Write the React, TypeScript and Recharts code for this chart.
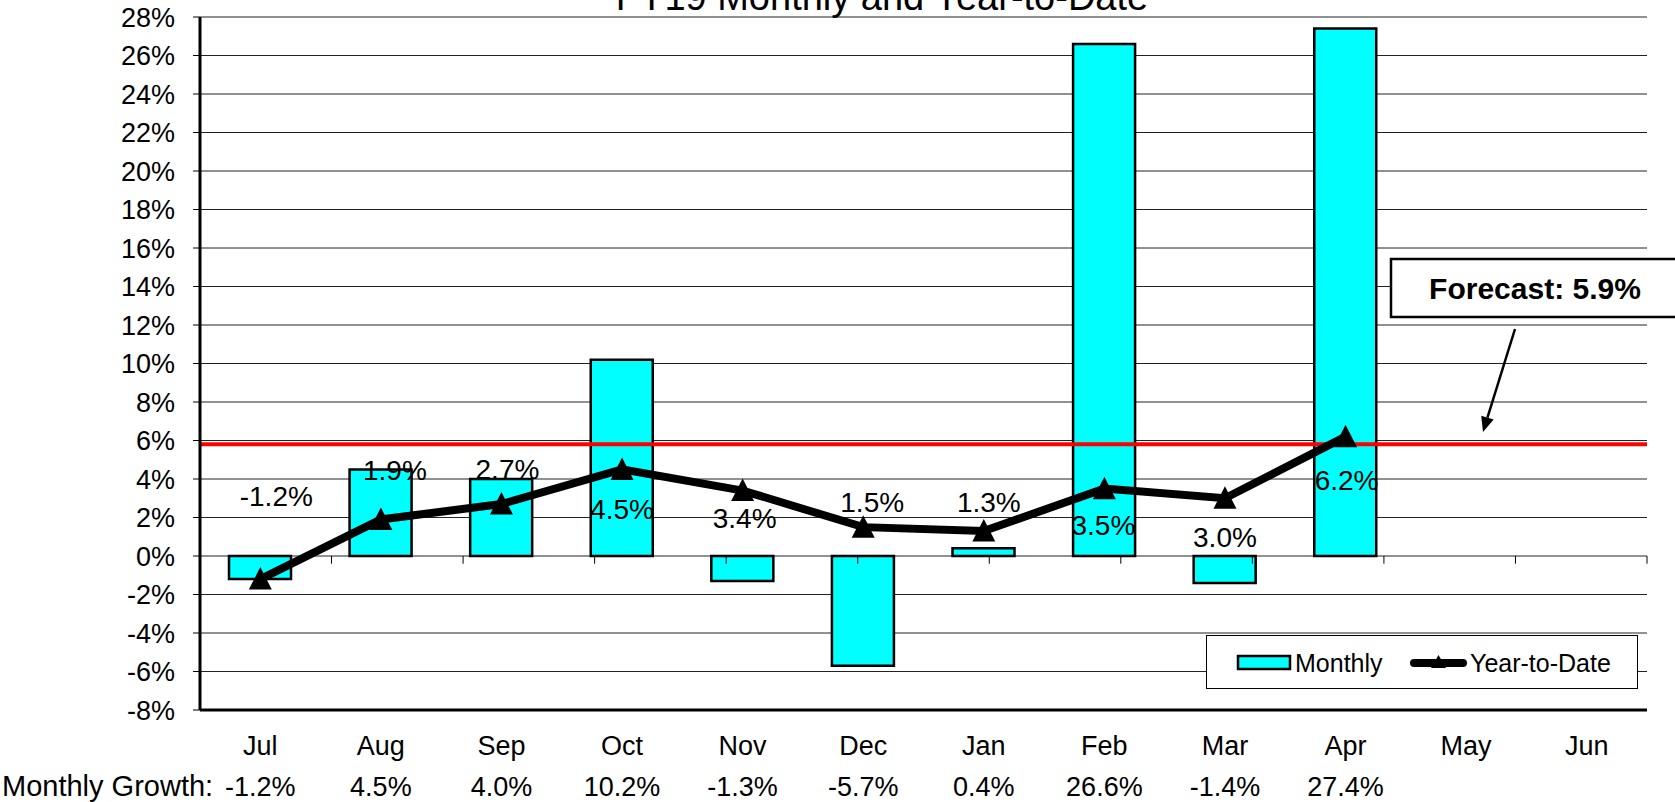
import React from 'react';
import {
  ComposedChart,
  Bar,
  Line,
  XAxis,
  YAxis,
  CartesianGrid,
  ReferenceLine,
  ReferenceArea,
  LabelList,
  Legend,
} from 'recharts';

const months = ['Jul', 'Aug', 'Sep', 'Oct', 'Nov', 'Dec', 'Jan', 'Feb', 'Mar', 'Apr', 'May', 'Jun'];
const monthlyGrowth: (number | null)[] = [-1.2, 4.5, 4.0, 10.2, -1.3, -5.7, 0.4, 26.6, -1.4, 27.4, null, null];
const yearToDate: (number | null)[] = [-1.2, 1.9, 2.7, 4.5, 3.4, 1.5, 1.3, 3.5, 3.0, 6.2, null, null];
const yTicks = [-8, -6, -4, -2, 0, 2, 4, 6, 8, 10, 12, 14, 16, 18, 20, 22, 24, 26, 28];
const forecast = 5.8;
const categoryBounds = [1, 2, 3, 4, 5, 6, 7, 8, 9, 10, 11];

// where each YTD label sits relative to its point (dx, dy), hand placed like the original
const ytdLabelNudge: [number, number][] = [
  [16, -83], [14, -50], [6, -35], [0, 40], [2, 27],
  [9, -25], [5, -29], [-1, 36], [0, 39], [1, 43],
];

const data = months.map((m, i) => ({
  month: m,
  monthly: monthlyGrowth[i],
  ytd: yearToDate[i],
}));

const FONT = '"Liberation Sans", Arial, sans-serif';
const pct = (v: number) => `${v.toFixed(1)}%`;

const MonthTick = (props: any) => {
  const { x, y, payload, index } = props;
  const g = monthlyGrowth[index];
  return (
    <g>
      <text x={x} y={y + 45} textAnchor="middle" fontSize={27} fill="#000" fontFamily={FONT}>
        {payload.value}
      </text>
      {g != null && (
        <text x={x} y={y + 86} textAnchor="middle" fontSize={27} fill="#000" fontFamily={FONT}>
          {pct(g)}
        </text>
      )}
    </g>
  );
};

const Triangle = (props: any) => {
  const { cx, cy, index } = props;
  if (cx == null || cy == null || yearToDate[index] == null) return <g key={`t-${index}`} />;
  return (
    <path
      key={`t-${index}`}
      d={`M${cx},${cy - 12} L${cx + 11.5},${cy + 10.5} L${cx - 11.5},${cy + 10.5} Z`}
      fill="#000"
    />
  );
};

const YtdLabel = (props: any) => {
  const { x, y, value, index } = props;
  if (value == null) return null;
  const [dx, dy] = ytdLabelNudge[index] || [0, -30];
  return (
    <text
      x={x + dx}
      y={y + dy}
      dy="0.36em"
      textAnchor="middle"
      fontSize={28}
      fill="#000"
      fontFamily={FONT}
    >
      {pct(value)}
    </text>
  );
};

const LegendBox = () => (
  <div
    style={{
      width: 432,
      height: 54,
      border: '1.5px solid #000',
      background: '#fff',
      boxSizing: 'border-box',
    }}
  >
    <svg width={430} height={52}>
      <rect x={31} y={20} width={52} height={13} fill="#00FFFF" stroke="#000" strokeWidth={2.5} />
      <text x={88} y={36} fontSize={25} fontFamily={FONT} fill="#000">Monthly</text>
      <line x1={207} y1={27} x2={256} y2={27} stroke="#000" strokeWidth={8} strokeLinecap="round" />
      <path d="M231.5,19 L239,32 L224,32 Z" fill="#000" />
      <text x={263} y={36} fontSize={25} fontFamily={FONT} fill="#000">Year-to-Date</text>
    </svg>
  </div>
);

export default function App() {
  // forecast arrow
  const ax1 = 1515, ay1 = 329, ax2 = 1483, ay2 = 432;
  const len = Math.hypot(ax2 - ax1, ay2 - ay1);
  const ux = (ax2 - ax1) / len, uy = (ay2 - ay1) / len;
  const bx = ax2 - ux * 15, by = ay2 - uy * 15;
  const head = `M${ax2},${ay2} L${bx + uy * 6.5},${by - ux * 6.5} L${bx - uy * 6.5},${by + ux * 6.5} Z`;

  return (
    <div
      style={{
        position: 'fixed',
        left: 0,
        top: 0,
        width: 1675,
        height: 802,
        background: '#fff',
        overflow: 'hidden',
        fontFamily: FONT,
      }}
    >
      <ComposedChart
        width={1675}
        height={802}
        data={data}
        margin={{ top: 17, right: 28, left: 0, bottom: 0 }}
        barSize={62}
      >
        <CartesianGrid vertical={false} stroke="#222" strokeWidth={1} />
        <XAxis
          dataKey="month"
          height={92}
          interval={0}
          tickSize={0}
          tickMargin={0}
          tickLine={false}
          axisLine={{ stroke: '#000', strokeWidth: 3 }}
          tick={<MonthTick />}
        />
        <XAxis xAxisId="num" type="number" domain={[0, 12]} allowDataOverflow hide />
        <YAxis
          width={200}
          domain={[-8, 28]}
          ticks={yTicks}
          interval={0}
          allowDataOverflow
          tickFormatter={(v: number) => `${v}%`}
          tickSize={7}
          tickMargin={18}
          tickLine={{ stroke: '#000', strokeWidth: 1 }}
          axisLine={{ stroke: '#000', strokeWidth: 3 }}
          tick={{ fontSize: 27, fill: '#000', fontFamily: FONT }}
        />
        {categoryBounds.map((b) => (
          <ReferenceLine
            key={b}
            xAxisId="num"
            segment={[{ x: b, y: 0 }, { x: b, y: -0.4 }]}
            stroke="#000"
            strokeWidth={1}
          />
        ))}
        <Bar
          dataKey="monthly"
          name="Monthly"
          fill="#00FFFF"
          stroke="#000"
          strokeWidth={2.5}
          isAnimationActive={false}
        />
        <ReferenceLine y={forecast} stroke="#FF0000" strokeWidth={4} />
        <Line
          dataKey="ytd"
          name="Year-to-Date"
          stroke="#000"
          strokeWidth={8}
          dot={Triangle}
          activeDot={false}
          isAnimationActive={false}
        >
          <LabelList dataKey="ytd" content={YtdLabel} />
        </Line>
        <ReferenceArea
          xAxisId="num"
          x1={0}
          x2={12}
          y1={-8}
          y2={28}
          fill="none"
          fillOpacity={0}
          stroke="#000"
          strokeWidth={3}
        />
        <Legend
          layout="horizontal"
          verticalAlign="middle"
          align="center"
          content={<LegendBox />}
          wrapperStyle={{ left: 1206, top: 635, width: 432, height: 54 }}
        />
      </ComposedChart>

      <svg
        width={1675}
        height={802}
        style={{ position: 'absolute', left: 0, top: 0, pointerEvents: 'none' }}
      >
        <text x={882} y={10} textAnchor="middle" fontSize={38} fontFamily={FONT} fill="#000">
          FY19 Monthly and Year-to-Date
        </text>
        <text x={2} y={796} fontSize={29} fontFamily={FONT} fill="#000">
          Monthly Growth:
        </text>
        <rect x={1391} y={259} width={320} height={58} fill="#fff" stroke="#000" strokeWidth={2.5} />
        <text x={1535} y={299} textAnchor="middle" fontSize={30} fontWeight="bold" fontFamily={FONT} fill="#000">
          Forecast: 5.9%
        </text>
        <line x1={ax1} y1={ay1} x2={bx} y2={by} stroke="#000" strokeWidth={2.5} />
        <path d={head} fill="#000" />
      </svg>
    </div>
  );
}
